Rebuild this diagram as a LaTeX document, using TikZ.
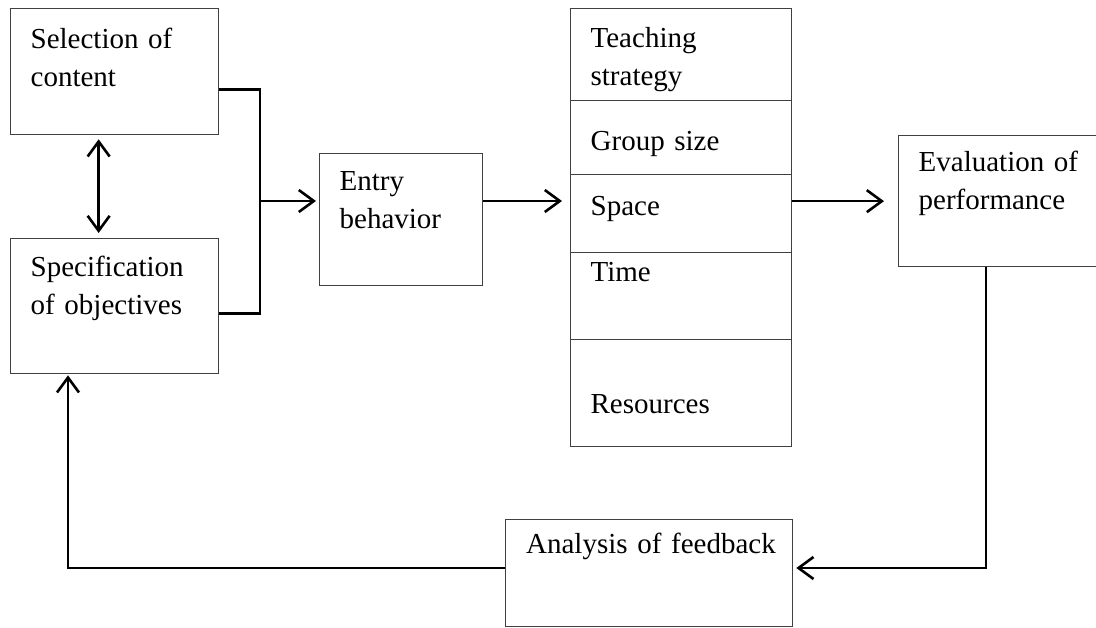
\documentclass[tikz,border=0pt]{standalone}
\usepackage{fontspec}
\setmainfont{Liberation Serif}
\usetikzlibrary{arrows.meta}
\begin{document}
\begin{tikzpicture}[x=1pt, y=-1pt,
		blk/.style={draw=black!75, line width=1.3pt, anchor=north west, align=left, inner ysep=0pt, inner xsep=20pt, text width=#1, font=\fontsize{29}{38}\selectfont},
		conn/.style={line width=2.6pt, line join=miter},
		barb/.style={-{Straight Barb[length=15pt, width=22pt]}},
		dblbarb/.style={{Straight Barb[length=15pt, width=22pt]}-{Straight Barb[length=15pt, width=22pt]}}]
		\clip (0,0) rectangle (1096,628);
		\node [blk=168pt, text height=40pt, text depth=86pt] (sel) at (10,8) {Selection of\\content};
		\node [blk=168pt, text height=38pt, text depth=97pt] (spec) at (10,238) {Specification\\of objectives};
		\node [blk=123pt, text height=37pt, text depth=95pt] (ent) at (319,153) {Entry\\behavior};
		\node [blk=181pt, text height=39pt, text depth=53pt] (tch) at (570,8) {Teaching\\strategy};
		\node [blk=181pt, text height=50pt, text depth=24pt] (grp) at (570,100) {Group size};
		\node [blk=181pt, text height=41pt, text depth=37pt] (spc) at (570,174) {Space};
		\node [blk=181pt, text height=29pt, text depth=58pt] (tim) at (570,252) {Time};
		\node [blk=181pt, text height=74pt, text depth=33pt] (res) at (570,339) {Resources};
		\node [blk=180pt, text height=36pt, text depth=95pt] (evl) at (898,135) {Evaluation of\\performance};
		\node [blk=246pt, inner xsep=20.5pt, text height=34pt, text depth=73pt] (anl) at (505,519) {\mbox{Analysis of feedback}};
		\coordinate (mrg) at (260,201);
		\coordinate (fb) at (986,568);
		\coordinate (bk) at (68,568);
		\draw [conn, dblbarb, shorten <=4pt, shorten >=5pt] ([xshift=-16pt]sel.south) -- ([xshift=-16pt]spec.north);
		\draw [conn] ([yshift=-18pt]sel.east) -| (mrg) |- ([yshift=-7.5pt]spec.east);
		\draw [conn, barb, shorten >=3pt] (mrg) -- (ent.west |- mrg);
		\draw [conn, barb, shorten >=8pt] (ent.east |- mrg) -- (spc.west |- mrg);
		\draw [conn, barb, shorten >=14pt] (spc.east |- evl.west) -- (evl.west);
		\draw [conn, barb, shorten >=3pt] (evl.south -| fb) -- (fb) -- (anl.east |- fb);
		\draw [conn, barb, shorten >=1pt] (anl.west |- bk) -- (bk) -- (spec.south -| bk);
\end{tikzpicture}
\end{document}
